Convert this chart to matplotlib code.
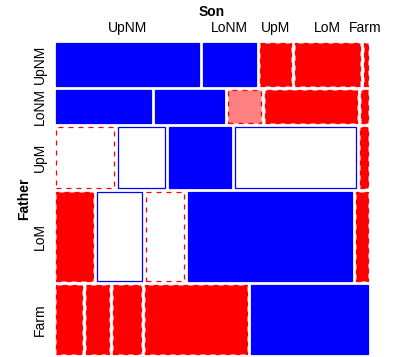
import matplotlib
matplotlib.use('Agg')
import matplotlib.pyplot as plt
import numpy as np
from matplotlib.patches import Rectangle

plt.rcParams['font.family'] = ['Liberation Sans', 'DejaVu Sans']

# occupational mobility, father (rows) x son (columns)
categories = ['UpNM', 'LoNM', 'UpM', 'LoM', 'Farm']
father_upnm = [1414, 521, 302, 643, 40]
father_lonm = [724, 524, 254, 703, 48]
father_upm = [798, 648, 856, 1676, 108]
father_lom = [756, 914, 771, 3325, 237]
father_farm = [409, 357, 441, 1611, 1832]

counts = np.array([father_upnm, father_lonm, father_upm, father_lom, father_farm], dtype=float)
N = counts.sum()
row_tot = counts.sum(axis=1)
col_tot = counts.sum(axis=0)
expected = np.outer(row_tot, col_tot) / N
resid = (counts - expected) / np.sqrt(expected)

W, H = 396, 357
fig = plt.figure(figsize=(W / 100, H / 100), dpi=100)
x0, x1 = 56, 367.7
y0, y1 = 42.7, 354.3
ax = fig.add_axes([x0 / W, 1 - y1 / H, (x1 - x0) / W, (y1 - y0) / H])
ax.set_xlim(0, 1)
ax.set_ylim(0, 1)
ax.axis('off')

gap = 4 / (x1 - x0)
usable = 1 - gap * (len(categories) - 1)


def style(r):
    if r > 0:
        edge, ls = '#0000FF', '-'
        fill = '#0000FF' if r > 4 else ('#8080FF' if r > 2 else 'white')
    else:
        edge, ls = '#FF0000', (0, (4, 4))
        fill = '#FF0000' if r < -4 else ('#FF8080' if r < -2 else 'white')
    return fill, edge, ls


ytop = 1.0
row_centers = []
for i in range(len(categories)):
    h = usable * row_tot[i] / N
    xl = 0.0
    for j in range(len(categories)):
        w = usable * counts[i, j] / row_tot[i]
        fill, edge, ls = style(resid[i, j])
        ax.add_patch(Rectangle((xl, ytop - h), w, h, facecolor=fill, edgecolor=edge,
                               linestyle=ls, linewidth=0.9, clip_on=False))
        if i == 0:
            ax.text(xl + w / 2, 1.048, categories[j], ha='center', va='center', fontsize=10)
        xl += w + gap
    row_centers.append(ytop - h / 2)
    ytop -= h + gap

for name, yc in zip(categories, row_centers):
    ax.text(-0.0513, yc, name, rotation=90, ha='center', va='center', fontsize=10)

ax.text(0.5, 1.0995, 'Son', ha='center', va='center', fontsize=10, fontweight='bold')
ax.text(-0.103, 0.5, 'Father', rotation=90, ha='center', va='center', fontsize=10, fontweight='bold')

fig.savefig('out.png', dpi=100)
